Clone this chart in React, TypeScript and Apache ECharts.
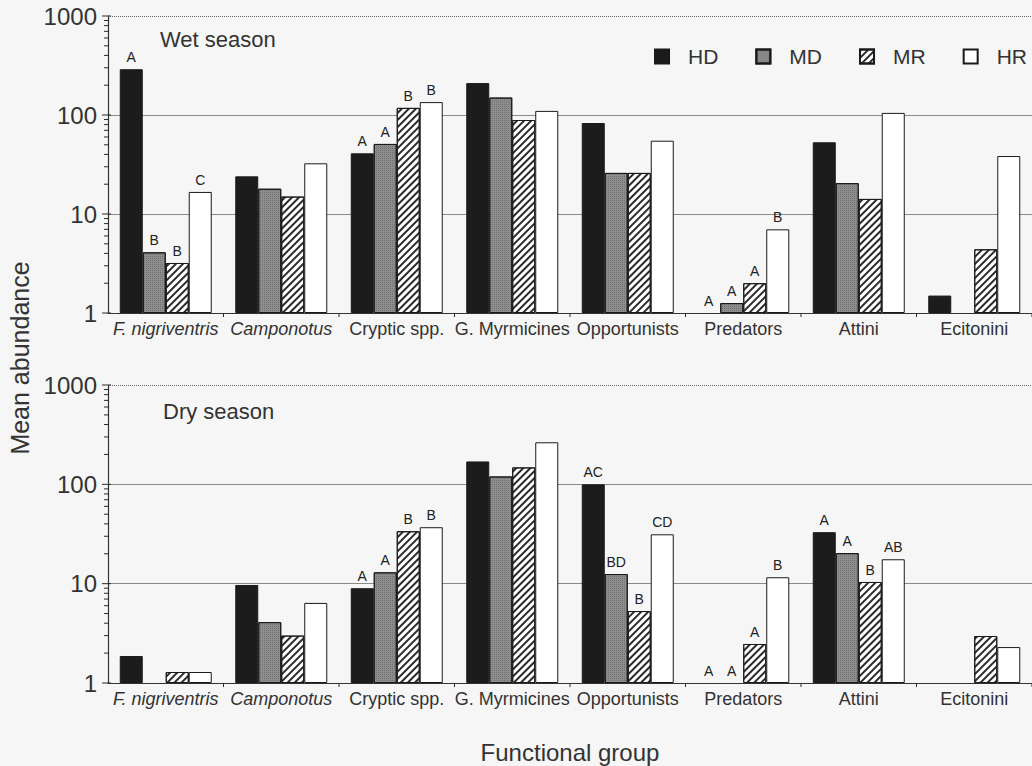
import React, { useEffect, useRef } from "react";
import * as echarts from "echarts";

const categories = [
  "F. nigriventris",
  "Camponotus",
  "Cryptic spp.",
  "G. Myrmicines",
  "Opportunists",
  "Predators",
  "Attini",
  "Ecitonini",
];
const italicCats = ["F. nigriventris", "Camponotus"];
const seriesNames = ["HD", "MD", "MR", "HR"];

// Wet season
const wetHD = [290, 24, 41, 210, 83, null, 53, 1.5];
const wetMD = [4.1, 18, 51, 150, 26, 1.26, 20.5, null];
const wetMR = [3.2, 15, 118, 89, 26, 2.0, 14.2, 4.4];
const wetHR = [16.7, 32.5, 135, 110, 55, 7.0, 105, 38.5];
const wetHDLetters = ["A", "", "A", "", "", "A", "", ""];
const wetMDLetters = ["B", "", "A", "", "", "A", "", ""];
const wetMRLetters = ["B", "", "B", "", "", "A", "", ""];
const wetHRLetters = ["C", "", "B", "", "", "B", "", ""];

// Dry season
const dryHD = [1.87, 9.7, 9.0, 170, 100, null, 33, null];
const dryMD = [null, 4.1, 13, 120, 12.5, null, 20.3, null];
const dryMR = [1.29, 3.0, 33.7, 148, 5.3, 2.47, 10.4, 2.97];
const dryHR = [1.29, 6.4, 37, 265, 31.4, 11.6, 17.6, 2.3];
const dryHDLetters = ["", "", "A", "", "AC", "A", "A", ""];
const dryMDLetters = ["", "", "A", "", "BD", "A", "A", ""];
const dryMRLetters = ["", "", "B", "", "B", "A", "B", ""];
const dryHRLetters = ["", "", "B", "", "CD", "B", "AB", ""];

const majorTickValues = [1, 10, 100, 1000];
const minorTickValues = [2, 3, 4, 5, 6, 7, 8, 9, 20, 30, 40, 50, 60, 70, 80, 90, 200, 300, 400, 500, 600, 700, 800, 900];

const FONT = "Liberation Sans, Arial, Helvetica, sans-serif";

const styles: any = {
  HD: { color: "#1c1c1c", borderColor: "#1a1a1a", borderWidth: 1 },
  MD: {
    color: "#8e8e8e",
    borderColor: "#1a1a1a",
    borderWidth: 1,
    decal: {
      symbol: "rect",
      symbolSize: 1,
      color: "rgba(60,60,60,0.35)",
      dashArrayX: [1, 1],
      dashArrayY: [1, 1],
      rotation: 0,
    },
  },
  MR: {
    color: "#ffffff",
    borderColor: "#1a1a1a",
    borderWidth: 1,
    decal: {
      symbol: "rect",
      symbolSize: 1,
      color: "#2a2a2a",
      dashArrayX: [1, 0],
      dashArrayY: [1.2, 2.6],
      rotation: -Math.PI / 4,
    },
  },
  HR: { color: "#ffffff", borderColor: "#1a1a1a", borderWidth: 1 },
};

function buildData(values: (number | null)[], letters: string[]) {
  return values.map((v, i) => {
    if (v == null) {
      if (letters[i]) {
        return {
          value: 1,
          itemStyle: { color: "transparent", borderWidth: 0, decal: "none" },
        };
      }
      return "-";
    }
    return v;
  });
}

function makeSeries(name: string, values: (number | null)[], letters: string[], gi: number) {
  return {
    name,
    type: "bar",
    xAxisIndex: gi,
    yAxisIndex: gi,
    barWidth: 23,
    barGap: "0%",
    data: buildData(values, letters),
    itemStyle: styles[name],
    label: {
      show: true,
      position: "top",
      distance: 5,
      fontFamily: FONT,
      fontSize: 14,
      color: "#222",
      formatter: (p: any) => letters[p.dataIndex] || "",
    },
  };
}

function xAxisCfg(gi: number) {
  return {
    type: "category",
    gridIndex: gi,
    data: categories,
    boundaryGap: true,
    axisLine: { lineStyle: { color: "#333", width: 1.2 } },
    axisTick: { show: false },
    axisLabel: {
      interval: 0,
      margin: 7,
      fontFamily: FONT,
      fontSize: 18,
      color: "#333",
      formatter: (v: string) => (italicCats.includes(v) ? "{it|" + v + "}" : v),
      rich: { it: { fontStyle: "italic", fontFamily: FONT, fontSize: 18, color: "#333" } },
    },
  };
}

function yAxisCfg(gi: number) {
  return {
    type: "log",
    logBase: 10,
    gridIndex: gi,
    min: 1,
    max: 1000,
    axisLine: { show: true, lineStyle: { color: "#333", width: 1.2 } },
    axisTick: { show: false },
    axisLabel: {
      fontFamily: FONT,
      fontSize: 24,
      color: "#333",
      margin: 11,
      formatter: (v: number) => String(Math.round(v)),
    },
    splitLine: { show: true, showMaxLine: false, lineStyle: { color: "#8a8a8a", width: 1 } },
  };
}

const textGraphics = [
  {
    type: "text",
    id: "wet",
    left: 160,
    top: 28,
    style: { text: "Wet season", font: "22px " + FONT, fill: "#333" },
  },
  {
    type: "text",
    id: "dry",
    left: 163,
    top: 400,
    style: { text: "Dry season", font: "22px " + FONT, fill: "#333" },
  },
  {
    type: "text",
    id: "ytitle",
    x: 20,
    y: 358,
    rotation: Math.PI / 2,
    style: {
      text: "Mean abundance",
      font: "25px " + FONT,
      fill: "#333",
      align: "center",
      verticalAlign: "middle",
    },
  },
  {
    type: "text",
    id: "xtitle",
    x: 570,
    y: 752,
    style: {
      text: "Functional group",
      font: "24px " + FONT,
      fill: "#333",
      align: "center",
      verticalAlign: "middle",
    },
  },
];

export default function App() {
  const ref = useRef<HTMLDivElement>(null);
  useEffect(() => {
    if (!ref.current) return;
    const chart = echarts.init(ref.current, null, { renderer: "svg" });
    const topLine = {
      silent: true,
      symbol: "none",
      label: { show: false },
      lineStyle: { type: "dotted", color: "#666", width: 1 },
      data: [{ yAxis: 1000 }],
    };
    const wet = [
      makeSeries("HD", wetHD, wetHDLetters, 0),
      makeSeries("MD", wetMD, wetMDLetters, 0),
      makeSeries("MR", wetMR, wetMRLetters, 0),
      { ...makeSeries("HR", wetHR, wetHRLetters, 0), markLine: topLine },
    ];
    const dry = [
      makeSeries("HD", dryHD, dryHDLetters, 1),
      makeSeries("MD", dryMD, dryMDLetters, 1),
      makeSeries("MR", dryMR, dryMRLetters, 1),
      { ...makeSeries("HR", dryHR, dryHRLetters, 1), markLine: topLine },
    ];
    chart.setOption({
      animation: false,
      backgroundColor: "#f6f6f6",
      textStyle: { fontFamily: FONT },
      grid: [
        { left: 108, top: 16, right: 0, height: 297 },
        { left: 108, top: 385, right: 0, height: 298 },
      ],
      legend: {
        data: seriesNames,
        right: 0,
        top: 41,
        icon: "rect",
        itemWidth: 14,
        itemHeight: 14,
        itemGap: 37,
        textStyle: {
          fontFamily: FONT,
          fontSize: 21,
          color: "#333",
          padding: [0, 0, 0, 14],
        },
        selectedMode: false,
      },
      xAxis: [xAxisCfg(0), xAxisCfg(1)],
      yAxis: [yAxisCfg(0), yAxisCfg(1)],
      series: [...wet, ...dry],
    });

    // Axis ticks, positioned through the chart's own scales.
    const tickGraphics: any[] = [];
    const stroke = { stroke: "#2a2a2a", lineWidth: 1 };
    [0, 1].forEach((gi) => {
      const c0 = chart.convertToPixel({ xAxisIndex: gi } as any, 0 as any) as any as number;
      const c1 = chart.convertToPixel({ xAxisIndex: gi } as any, 1 as any) as any as number;
      const band = c1 - c0;
      const left = c0 - band / 2;
      const bottom = chart.convertToPixel({ yAxisIndex: gi } as any, 1 as any) as any as number;
      majorTickValues.forEach((v) => {
        const y = chart.convertToPixel({ yAxisIndex: gi } as any, v as any) as any as number;
        tickGraphics.push({
          type: "line",
          silent: true,
          shape: { x1: left - 6, y1: y, x2: left + 3, y2: y },
          style: stroke,
          z: 20,
        });
      });
      minorTickValues.forEach((v) => {
        const y = chart.convertToPixel({ yAxisIndex: gi } as any, v as any) as any as number;
        tickGraphics.push({
          type: "line",
          silent: true,
          shape: { x1: left - 4, y1: y, x2: left + 1, y2: y },
          style: stroke,
          z: 20,
        });
      });
      for (let i = 1; i <= categories.length; i++) {
        const x = left + band * i;
        tickGraphics.push({
          type: "line",
          silent: true,
          shape: { x1: x, y1: bottom, x2: x, y2: bottom + 4 },
          style: stroke,
          z: 20,
        });
      }
    });
    chart.setOption({ graphic: [...textGraphics, ...tickGraphics] });
    return () => chart.dispose();
  }, []);
  return (
    <div
      ref={ref}
      style={{ position: "fixed", left: 0, top: 0, width: 1032, height: 766 }}
    />
  );
}
